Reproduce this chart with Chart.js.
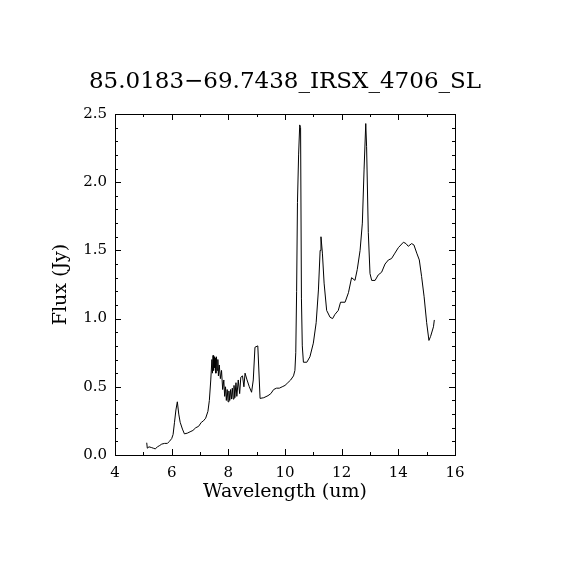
<!DOCTYPE html>
<html>
<head>
<meta charset="utf-8">
<script src="https://cdn.jsdelivr.net/npm/chart.js@4"></script>
<style>
  html, body { margin: 0; padding: 0; background: #fff; }
  canvas { display: block; }
</style>
</head>
<body>
<canvas id="specChart" width="570" height="570"></canvas>
<script>
// spectrum (wavelength in um, flux in Jy)
const wavelength = [
    5.12, 5.14, 5.20, 5.28, 5.35, 5.42, 5.50, 5.58, 5.65, 5.75, 5.85, 5.92, 6.00, 6.05, 6.10, 6.15, 6.20, 6.25, 6.30, 6.38,
    6.45, 6.55, 6.65, 6.75, 6.85, 6.95, 7.05, 7.12, 7.20, 7.28, 7.33, 7.38, 7.42, 7.44, 7.46, 7.48, 7.50, 7.52, 7.54, 7.56,
    7.58, 7.61, 7.63, 7.65, 7.68, 7.72, 7.76, 7.80, 7.84, 7.87, 7.90, 7.93, 7.96, 7.99, 8.02, 8.05, 8.08, 8.11, 8.14, 8.17,
    8.20, 8.23, 8.27, 8.30, 8.35, 8.40, 8.44, 8.50, 8.55, 8.59, 8.66, 8.74, 8.82, 8.88, 8.94, 9.04, 9.12, 9.25, 9.40, 9.50,
    9.60, 9.70, 9.80, 9.90, 10.00, 10.10, 10.20, 10.30, 10.35, 10.38, 10.41, 10.44, 10.48, 10.52, 10.55, 10.58, 10.61, 10.65, 10.77, 10.88,
    11.00, 11.10, 11.18, 11.24, 11.27, 11.32, 11.38, 11.47, 11.59, 11.68, 11.76, 11.88, 11.96, 12.12, 12.24, 12.35, 12.47, 12.55, 12.65, 12.73,
    12.79, 12.85, 12.88, 12.94, 13.00, 13.06, 13.18, 13.29, 13.41, 13.53, 13.65, 13.76, 13.88, 14.00, 14.18, 14.27, 14.35, 14.47, 14.55, 14.65,
    14.74, 14.82, 14.91, 15.00, 15.08, 15.14, 15.24, 15.27
];
const flux = [
    0.09, 0.05, 0.06, 0.055, 0.05, 0.045, 0.06, 0.07, 0.08, 0.085, 0.085, 0.10, 0.12, 0.15, 0.24, 0.33, 0.39, 0.30, 0.24, 0.19,
    0.155, 0.16, 0.17, 0.18, 0.20, 0.21, 0.24, 0.25, 0.27, 0.32, 0.40, 0.55, 0.70, 0.60, 0.73, 0.62, 0.72, 0.64, 0.71, 0.60,
    0.72, 0.62, 0.70, 0.58, 0.66, 0.56, 0.62, 0.48, 0.55, 0.43, 0.50, 0.40, 0.48, 0.39, 0.47, 0.40, 0.48, 0.41, 0.49, 0.41,
    0.51, 0.42, 0.53, 0.43, 0.55, 0.45, 0.57, 0.58, 0.50, 0.60, 0.55, 0.50, 0.46, 0.55, 0.79, 0.80, 0.415, 0.42, 0.435, 0.45,
    0.48, 0.49, 0.49, 0.50, 0.51, 0.53, 0.55, 0.58, 0.62, 0.75, 1.20, 1.85, 2.20, 2.42, 2.40, 1.15, 0.80, 0.68, 0.68, 0.72,
    0.82, 0.97, 1.21, 1.50, 1.60, 1.48, 1.26, 1.06, 1.01, 1.00, 1.03, 1.06, 1.12, 1.12, 1.19, 1.30, 1.28, 1.36, 1.50, 1.70,
    2.09, 2.43, 2.26, 1.63, 1.33, 1.28, 1.28, 1.32, 1.34, 1.40, 1.43, 1.44, 1.48, 1.52, 1.56, 1.55, 1.53, 1.55, 1.54, 1.48,
    1.43, 1.31, 1.16, 0.97, 0.84, 0.87, 0.94, 0.99
];

const xMajor = [4, 6, 8, 10, 12, 14, 16];
const xMinor = [5, 7, 9, 11, 13, 15];
const yMajor = [0.0, 0.5, 1.0, 1.5, 2.0, 2.5];
const yMinor = [0.1, 0.2, 0.3, 0.4, 0.6, 0.7, 0.8, 0.9, 1.1, 1.2, 1.3, 1.4, 1.6, 1.7, 1.8, 1.9, 2.1, 2.2, 2.3, 2.4];

const points = wavelength.map((w, i) => ({ x: w, y: flux[i] }));
const serif = "'DejaVu Serif', 'Liberation Serif', serif";

// IDL-style box with inward ticks on all four sides
const boxTicks = {
    id: 'boxTicks',
    afterDraw(chart) {
        const ctx = chart.ctx;
        const a = chart.chartArea;
        const xs = chart.scales.x, ys = chart.scales.y;
        ctx.save();
        ctx.strokeStyle = '#000';
        ctx.lineWidth = 1;
        ctx.strokeRect(a.left + 0.5, a.top + 0.5, a.right - a.left, a.bottom - a.top);
        ctx.beginPath();
        const xt = (vals, len) => vals.forEach(v => {
            const px = Math.round(xs.getPixelForValue(v)) + 0.5;
            ctx.moveTo(px, a.bottom); ctx.lineTo(px, a.bottom - len);
            ctx.moveTo(px, a.top); ctx.lineTo(px, a.top + len);
        });
        const yt = (vals, len) => vals.forEach(v => {
            const py = Math.round(ys.getPixelForValue(v)) + 0.5;
            ctx.moveTo(a.left, py); ctx.lineTo(a.left + len, py);
            ctx.moveTo(a.right, py); ctx.lineTo(a.right - len, py);
        });
        xt(xMajor, 6); xt(xMinor, 3);
        yt(yMajor, 6); yt(yMinor, 3);
        ctx.stroke();
        ctx.restore();
    }
};

new Chart(document.getElementById('specChart'), {
    type: 'line',
    data: {
        datasets: [{
            data: points,
            borderColor: '#000',
            borderWidth: 1,
            pointRadius: 0,
            tension: 0,
            fill: false
        }]
    },
    options: {
        responsive: false,
        animation: false,
        events: [],
        layout: { padding: 0 },
        plugins: {
            legend: { display: false },
            tooltip: { enabled: false },
            title: {
                display: true,
                text: '85.0183\u221269.7438_IRSX_4706_SL',
                color: '#000',
                font: { family: serif, size: 23, weight: 'normal', lineHeight: 1.2 },
                padding: { top: 68, bottom: 18.4 }
            }
        },
        scales: {
            x: {
                type: 'linear',
                min: 4,
                max: 16,
                afterFit(scale) { scale.height = 115; },
                afterBuildTicks(scale) { scale.ticks = xMajor.map(v => ({ value: v })); },
                grid: { display: false, drawTicks: false },
                border: { display: false },
                ticks: {
                    color: '#000',
                    padding: 9,
                    maxRotation: 0,
                    font: { family: serif, size: 15 },
                    callback: v => String(v)
                },
                title: {
                    display: true,
                    text: 'Wavelength (um)',
                    color: '#000',
                    font: { family: serif, size: 19, lineHeight: 1.2 },
                    padding: { top: 0, bottom: 67 }
                }
            },
            y: {
                type: 'linear',
                min: 0,
                max: 2.5,
                afterFit(scale) { scale.width = 115; },
                afterBuildTicks(scale) { scale.ticks = yMajor.map(v => ({ value: v })); },
                grid: { display: false, drawTicks: false },
                border: { display: false },
                ticks: {
                    color: '#000',
                    padding: 8,
                    font: { family: serif, size: 15 },
                    callback: v => v.toFixed(1)
                },
                title: {
                    display: true,
                    text: 'Flux (Jy)',
                    color: '#000',
                    font: { family: serif, size: 19, lineHeight: 1.2 },
                    padding: { top: 50, bottom: 0 }
                }
            },
            yRight: {
                type: 'linear',
                axis: 'y',
                position: 'right',
                min: 0,
                max: 2.5,
                afterFit(scale) { scale.width = 115; },
                grid: { display: false, drawTicks: false },
                border: { display: false },
                ticks: { display: false }
            }
        }
    },
    plugins: [boxTicks]
});
</script>
</body>
</html>
